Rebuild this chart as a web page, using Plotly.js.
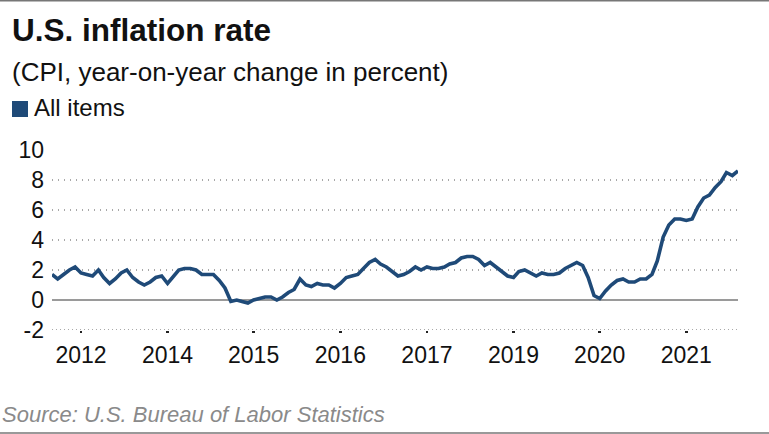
<!DOCTYPE html>
<html>
<head>
<meta charset="utf-8">
<script src="https://cdn.plot.ly/plotly-3.0.1.min.js"></script>
<style>html,body{margin:0;padding:0;background:#fff}#chart{width:769px;height:434px}</style>
</head>
<body>
<div id="chart"></div>
<script>
// Monthly CPI, year-on-year % change, Jun 2012 .. May 2022
const startMonth = [2012, 6];
const cpiAllItems = [
  1.7, 1.4, 1.7, 2.0, 2.2, 1.8, 1.7,                          // 2012 Jun-Dec
  1.6, 2.0, 1.5, 1.1, 1.4, 1.8, 2.0, 1.5, 1.2, 1.0, 1.2, 1.5, // 2013
  1.6, 1.1, 1.5, 2.0, 2.1, 2.1, 2.0, 1.7, 1.7, 1.7, 1.3, 0.8, // 2014
  -0.1, 0.0, -0.1, -0.2, 0.0, 0.1, 0.2, 0.2, 0.0, 0.2, 0.5, 0.7, // 2015
  1.4, 1.0, 0.9, 1.1, 1.0, 1.0, 0.8, 1.1, 1.5, 1.6, 1.7, 2.1, // 2016
  2.5, 2.7, 2.4, 2.2, 1.9, 1.6, 1.7, 1.9, 2.2, 2.0, 2.2, 2.1, // 2017
  2.1, 2.2, 2.4, 2.5, 2.8, 2.9, 2.9, 2.7, 2.3, 2.5, 2.2, 1.9, // 2018
  1.6, 1.5, 1.9, 2.0, 1.8, 1.6, 1.8, 1.7, 1.7, 1.8, 2.1, 2.3, // 2019
  2.5, 2.3, 1.5, 0.3, 0.1, 0.6, 1.0, 1.3, 1.4, 1.2, 1.2, 1.4, // 2020
  1.4, 1.7, 2.6, 4.2, 5.0, 5.4, 5.4, 5.3, 5.4, 6.2, 6.8, 7.0, // 2021
  7.5, 7.9, 8.5, 8.3, 8.6                                      // 2022 Jan-May
];
// Tick positions (every 15 months) and their labels as in the original
const tickDates = ['2012-11-01','2014-02-01','2015-05-01','2016-08-01','2017-11-01','2019-02-01','2020-05-01','2021-08-01'];
const tickLabels = ['2012','2014','2015','2016','2017','2019','2020','2021'];
const yTicks = [-2, 0, 2, 4, 6, 8, 10];
const yTickLabels = ['-2', '0', '2', '4', '6', '8', '10'];
const seriesName = 'All items';

const months = cpiAllItems.map((_, i) => {
  const m0 = (startMonth[1] - 1) + i;
  const y = startMonth[0] + Math.floor(m0 / 12);
  const m = (m0 % 12) + 1;
  return y + '-' + String(m).padStart(2, '0') + '-01';
});

const lineColor = '#1f4a78';
const FONT = 'Liberation Sans, Arial, sans-serif';
const L = 52, R = 738, T = 150, B = 330, W = 769, H = 434;
const px = x => (x - L) / (R - L);
const py = y => (B - y) / (B - T);

const trace = {
  x: months, y: cpiAllItems, type: 'scatter', mode: 'lines',
  name: seriesName,
  line: {color: lineColor, width: 3.6, shape: 'linear'},
  hoverinfo: 'x+y', showlegend: false
};

const layout = {
  width: W, height: H,
  margin: {l: L, r: W - R, t: T, b: H - B, pad: 0},
  paper_bgcolor: '#fff', plot_bgcolor: '#fff',
  font: {family: FONT, color: '#111'},
  title: {
    text: '<b>U.S. inflation rate</b>',
    font: {family: FONT, size: 31.5, color: '#111'},
    xref: 'container', yref: 'container',
    x: 12 / W, xanchor: 'left', y: 1 - 30 / H, yanchor: 'middle'
  },
  xaxis: {
    type: 'date',
    range: [months[0], months[months.length - 1]],
    tickmode: 'array', tickvals: tickDates, ticktext: tickLabels,
    showgrid: false, zeroline: false, showline: false,
    ticks: 'outside', ticklen: 2, tickwidth: 2.5, tickcolor: '#222',
    ticklabelstandoff: 2,
    tickfont: {family: FONT, size: 23, color: '#111'},
    fixedrange: true
  },
  yaxis: {
    range: [-2, 10],
    tickmode: 'array', tickvals: yTicks, ticktext: yTickLabels,
    showgrid: true, gridcolor: '#a8a8a8', griddash: '1px,5px', gridwidth: 1.2,
    zeroline: true, zerolinecolor: '#9a9a9a', zerolinewidth: 1.5,
    showline: false, ticks: '',
    ticklabelstandoff: 7,
    tickfont: {family: FONT, size: 23, color: '#111'},
    fixedrange: true
  },
  shapes: [
    {type: 'line', xref: 'paper', yref: 'paper', x0: -L / (R - L), x1: (W - L) / (R - L), y0: py(0.8), y1: py(0.8),
      line: {color: '#777', width: 1.5}},
    {type: 'line', xref: 'paper', yref: 'paper', x0: -L / (R - L), x1: (W - L) / (R - L), y0: py(433), y1: py(433),
      line: {color: '#777', width: 1.5}},
    {type: 'line', xref: 'paper', yref: 'y', x0: 0, x1: 1, y0: -2, y1: -2,
      line: {color: '#555', width: 1.2, dash: '1px,3px'}},
    {type: 'rect', xref: 'paper', yref: 'paper', x0: px(12), x1: px(28), y0: py(117), y1: py(101),
      fillcolor: lineColor, line: {width: 0}}
  ],
  annotations: [
    {text: '(CPI, year-on-year change in percent)', xref: 'paper', yref: 'paper',
      x: px(10), y: py(72), xanchor: 'left', yanchor: 'middle', showarrow: false,
      font: {family: FONT, size: 26, color: '#111'}},
    {text: seriesName, xref: 'paper', yref: 'paper',
      x: px(32), y: py(108), xanchor: 'left', yanchor: 'middle', showarrow: false,
      font: {family: FONT, size: 24, color: '#111'}},
    {text: '<i>Source: U.S. Bureau of Labor Statistics</i>', xref: 'paper', yref: 'paper',
      x: px(0), y: py(414), xanchor: 'left', yanchor: 'middle', showarrow: false,
      font: {family: FONT, size: 22, color: '#8a8a8a'}}
  ]
};

Plotly.newPlot('chart', [trace], layout, {displayModeBar: false, staticPlot: true});
</script>
</body>
</html>
